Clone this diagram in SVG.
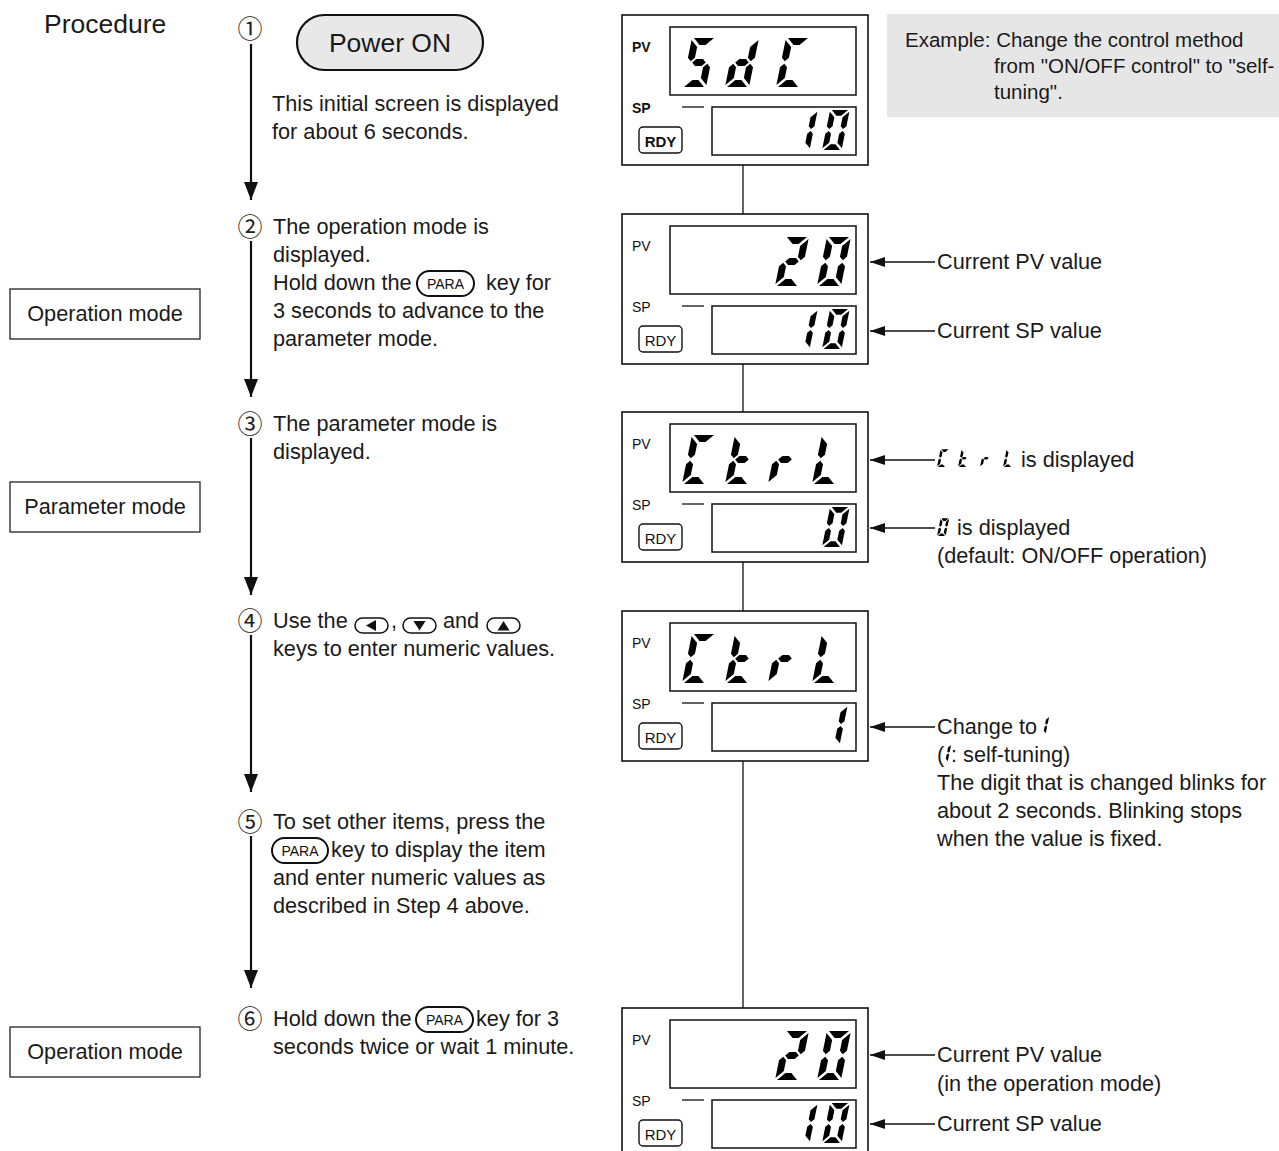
<svg xmlns="http://www.w3.org/2000/svg" xmlns:xlink="http://www.w3.org/1999/xlink" width="1279" height="1151" viewBox="0 0 1279 1151">
<style>
.t{font-family:"Liberation Sans",Arial,sans-serif;font-size:21.7px;fill:#1a1a1a}
.big{font-size:26.5px}
.ex{font-size:20.5px}
.lab{font-family:"Liberation Sans",Arial,sans-serif;font-size:14px;fill:#111}
.rdy{font-family:"Liberation Sans",Arial,sans-serif;font-size:15px;fill:#111;text-anchor:middle}
.b{font-weight:bold}
.num{font-family:"Noto Sans CJK JP",sans-serif;font-size:25px;fill:#222;text-anchor:middle}
.panel{fill:#fff;stroke:#111;stroke-width:1.6}
.win{fill:#fff;stroke:#111;stroke-width:1.5}
.rdybox{fill:#fff;stroke:#111;stroke-width:1.4}
.box{fill:#fff;stroke:#222;stroke-width:1.3}
.key{fill:#fff;stroke:#111;stroke-width:2}
.skey{fill:#fff;stroke:#111;stroke-width:1.5}
.conn{stroke:#111;stroke-width:1.3;fill:none}
.arr{stroke:#111;stroke-width:2.2;fill:none}
.larr{stroke:#111;stroke-width:1.5;fill:none}
.seg{fill:#000}
</style>
<defs>
<marker id="hd" markerUnits="userSpaceOnUse" markerWidth="18" markerHeight="14" refX="18" refY="7" orient="auto"><path d="M0,0 L18,7 L0,14 z" fill="#111"/></marker>
<marker id="hl" markerUnits="userSpaceOnUse" markerWidth="15" markerHeight="10" refX="15" refY="5" orient="auto"><path d="M0,0 L15,5 L0,10 z" fill="#111"/></marker>
<polygon id="sa" class="seg" points="2,-49 22,-49 15,-42 9,-42"/>
<polygon id="sd" class="seg" points="2,0 22,0 15,-7 9,-7"/>
<polygon id="sg" class="seg" points="5.2,-24.5 8.7,-28 15.3,-28 18.8,-24.5 15.3,-21 8.7,-21"/>
<polygon id="sf" class="seg" points="0,-47 7,-40 7,-29.2 3.5,-25.7 0,-29.2"/>
<polygon id="se" class="seg" points="3.5,-23.3 7,-19.8 7,-9 0,-2 0,-19.8"/>
<polygon id="sb" class="seg" points="24,-47 17,-40 17,-29.2 20.5,-25.7 24,-29.2"/>
<polygon id="sc" class="seg" points="20.5,-23.3 17,-19.8 17,-9 24,-2 24,-19.8"/>
<g id="g0"><use href="#sa"/><use href="#sb"/><use href="#sc"/><use href="#sd"/><use href="#se"/><use href="#sf"/></g>
<g id="g1"><use href="#sb"/><use href="#sc"/></g>
<g id="g2"><use href="#sa"/><use href="#sb"/><use href="#sg"/><use href="#se"/><use href="#sd"/></g>
<g id="gS"><use href="#sa"/><use href="#sf"/><use href="#sg"/><use href="#sc"/><use href="#sd"/></g>
<g id="gd"><use href="#sb"/><use href="#sc"/><use href="#sd"/><use href="#se"/><use href="#sg"/></g>
<g id="gC"><use href="#sa"/><use href="#sf"/><use href="#se"/><use href="#sd"/></g>
<g id="gt"><use href="#sf"/><use href="#sg"/><use href="#se"/><use href="#sd"/></g>
<g id="gr"><use href="#se"/><use href="#sg"/></g>
<g id="gL"><use href="#sf"/><use href="#se"/><use href="#sd"/></g>
<g id="ptpl">
<rect class="win" x="48" y="12" width="186" height="68"/>
<rect class="win" x="90" y="92" width="144" height="48"/>
<line x1="60" y1="92" x2="82" y2="92" stroke="#111" stroke-width="1.3"/>
<rect class="rdybox" x="17" y="112" width="43" height="26" rx="4"/>
</g>
</defs>

<text class="t big" x="44" y="33">Procedure</text>

<g id="connectors">
<line class="arr" x1="251" y1="44" x2="251" y2="200" marker-end="url(#hd)"/>
<line class="arr" x1="251" y1="241" x2="251" y2="397" marker-end="url(#hd)"/>
<line class="arr" x1="251" y1="438" x2="251" y2="595" marker-end="url(#hd)"/>
<line class="arr" x1="251" y1="635" x2="251" y2="792" marker-end="url(#hd)"/>
<line class="arr" x1="251" y1="836" x2="251" y2="988" marker-end="url(#hd)"/>
<line class="conn" x1="743" y1="165" x2="743" y2="214"/>
<line class="conn" x1="743" y1="364" x2="743" y2="412"/>
<line class="conn" x1="743" y1="562" x2="743" y2="611"/>
<line class="conn" x1="743" y1="761" x2="743" y2="1008"/>
<line class="larr" x1="935" y1="262" x2="870" y2="262" marker-end="url(#hl)"/>
<line class="larr" x1="935" y1="331" x2="870" y2="331" marker-end="url(#hl)"/>
<line class="larr" x1="935" y1="460" x2="870" y2="460" marker-end="url(#hl)"/>
<line class="larr" x1="935" y1="528" x2="870" y2="528" marker-end="url(#hl)"/>
<line class="larr" x1="935" y1="727" x2="870" y2="727" marker-end="url(#hl)"/>
<line class="larr" x1="935" y1="1055" x2="870" y2="1055" marker-end="url(#hl)"/>
<line class="larr" x1="935" y1="1124" x2="870" y2="1124" marker-end="url(#hl)"/>
</g>

<g id="step1">
<text class="num" x="250" y="38">①</text>
<rect x="297" y="15" width="186" height="55" rx="27.5" fill="#e8e8e8" stroke="#111" stroke-width="2.2"/>
<text class="t big" x="390" y="52" text-anchor="middle">Power ON</text>
<text class="t" x="272" y="111">This initial screen is displayed</text>
<text class="t" x="272" y="139">for about 6 seconds.</text>
</g>

<g id="step2">
<text class="num" x="250" y="236">②</text>
<text class="t" x="273" y="234">The operation mode is</text>
<text class="t" x="273" y="262">displayed.</text>
<text class="t" x="273" y="290">Hold down the</text>
<rect class="key" x="417" y="271" width="57" height="25" rx="12.5"/>
<text class="lab" x="445.5" y="288.5" text-anchor="middle">PARA</text>
<text class="t" x="486" y="290">key for</text>
<text class="t" x="273" y="318">3 seconds to advance to the</text>
<text class="t" x="273" y="346">parameter mode.</text>
</g>

<g id="step3">
<text class="num" x="250" y="433">③</text>
<text class="t" x="273" y="431">The parameter mode is</text>
<text class="t" x="273" y="459">displayed.</text>
</g>

<g id="step4">
<text class="num" x="250" y="630">④</text>
<text class="t" x="273" y="628">Use the</text>
<rect class="skey" x="355" y="618" width="33" height="15" rx="7.5"/>
<polygon points="366,625.5 376,620 376,631" fill="#111"/>
<text class="t" x="391" y="628">,</text>
<rect class="skey" x="403" y="618" width="33" height="15" rx="7.5"/>
<polygon points="413.5,621 425.5,621 419.5,630.5" fill="#111"/>
<text class="t" x="443" y="628">and</text>
<rect class="skey" x="487" y="618" width="33" height="15" rx="7.5"/>
<polygon points="497.5,630.5 509.5,630.5 503.5,621" fill="#111"/>
<text class="t" x="273" y="656">keys to enter numeric values.</text>
</g>

<g id="step5">
<text class="num" x="250" y="831">⑤</text>
<text class="t" x="273" y="829">To set other items, press the</text>
<rect class="key" x="272" y="838" width="56" height="25" rx="12.5"/>
<text class="lab" x="300" y="855.5" text-anchor="middle">PARA</text>
<text class="t" x="331" y="857">key to display the item</text>
<text class="t" x="273" y="885">and enter numeric values as</text>
<text class="t" x="273" y="913">described in Step 4 above.</text>
</g>

<g id="step6">
<text class="num" x="250" y="1028">⑥</text>
<text class="t" x="273" y="1026">Hold down the</text>
<rect class="key" x="416" y="1007" width="57" height="25" rx="12.5"/>
<text class="lab" x="444.5" y="1024.5" text-anchor="middle">PARA</text>
<text class="t" x="476" y="1026">key for 3</text>
<text class="t" x="273" y="1054">seconds twice or wait 1 minute.</text>
</g>

<g id="mode-operation-1">
<rect class="box" x="10" y="289" width="190" height="50"/>
<text class="t" x="105" y="321" text-anchor="middle">Operation mode</text>
</g>
<g id="mode-parameter">
<rect class="box" x="10" y="482" width="190" height="50"/>
<text class="t" x="105" y="514" text-anchor="middle">Parameter mode</text>
</g>
<g id="mode-operation-2">
<rect class="box" x="10" y="1027" width="190" height="50"/>
<text class="t" x="105" y="1059" text-anchor="middle">Operation mode</text>
</g>

<g id="example">
<rect x="887" y="14" width="392" height="103" fill="#e6e6e6"/>
<text class="t ex" x="905" y="47">Example: Change the control method</text>
<text class="t ex" x="994" y="73">from "ON/OFF control" to "self-</text>
<text class="t ex" x="994" y="99">tuning".</text>
</g>

<g id="panel1">
<rect class="panel" x="622" y="15" width="246" height="150"/>
<use href="#ptpl" transform="translate(622,15)"/>
<text class="lab b" x="632" y="52">PV</text>
<text class="lab b" x="632" y="113">SP</text>
<text class="rdy b" x="660.5" y="147">RDY</text>
<use href="#gS" transform="translate(682,87) skewX(-11.5)"/>
<use href="#gd" transform="translate(725,87) skewX(-11.5)"/>
<use href="#gC" transform="translate(776,87) skewX(-11.5)"/>
<use href="#g1" transform="translate(790,150) skewX(-11.5) scale(0.816)"/>
<use href="#g0" transform="translate(822,150) skewX(-11.5) scale(0.816)"/>
</g>

<g id="panel2">
<rect class="panel" x="622" y="214" width="246" height="150"/>
<use href="#ptpl" transform="translate(622,214)"/>
<text class="lab" x="632" y="251">PV</text>
<text class="lab" x="632" y="312">SP</text>
<text class="rdy" x="660.5" y="346">RDY</text>
<use href="#g2" transform="translate(775,286) skewX(-11.5)"/>
<use href="#g0" transform="translate(817,286) skewX(-11.5)"/>
<use href="#g1" transform="translate(790,349) skewX(-11.5) scale(0.816)"/>
<use href="#g0" transform="translate(822,349) skewX(-11.5) scale(0.816)"/>
</g>

<g id="panel3">
<rect class="panel" x="622" y="412" width="246" height="150"/>
<use href="#ptpl" transform="translate(622,412)"/>
<text class="lab" x="632" y="449">PV</text>
<text class="lab" x="632" y="510">SP</text>
<text class="rdy" x="660.5" y="544">RDY</text>
<use href="#gC" transform="translate(682,484) skewX(-11.5)"/>
<use href="#gt" transform="translate(725,484) skewX(-11.5)"/>
<use href="#gr" transform="translate(768,484) skewX(-11.5)"/>
<use href="#gL" transform="translate(812,484) skewX(-11.5)"/>
<use href="#g0" transform="translate(822,547) skewX(-11.5) scale(0.816)"/>
</g>

<g id="panel4">
<rect class="panel" x="622" y="611" width="246" height="150"/>
<use href="#ptpl" transform="translate(622,611)"/>
<text class="lab" x="632" y="648">PV</text>
<text class="lab" x="632" y="709">SP</text>
<text class="rdy" x="660.5" y="743">RDY</text>
<use href="#gC" transform="translate(682,683) skewX(-11.5)"/>
<use href="#gt" transform="translate(725,683) skewX(-11.5)"/>
<use href="#gr" transform="translate(768,683) skewX(-11.5)"/>
<use href="#gL" transform="translate(812,683) skewX(-11.5)"/>
<use href="#g1" transform="translate(820,745) skewX(-11.5) scale(0.816)"/>
</g>

<g id="panel5">
<rect class="panel" x="622" y="1008" width="246" height="150"/>
<use href="#ptpl" transform="translate(622,1008)"/>
<text class="lab" x="632" y="1045">PV</text>
<text class="lab" x="632" y="1106">SP</text>
<text class="rdy" x="660.5" y="1140">RDY</text>
<use href="#g2" transform="translate(775,1080) skewX(-11.5)"/>
<use href="#g0" transform="translate(817,1080) skewX(-11.5)"/>
<use href="#g1" transform="translate(790,1143) skewX(-11.5) scale(0.816)"/>
<use href="#g0" transform="translate(822,1143) skewX(-11.5) scale(0.816)"/>
</g>

<g id="notes">
<text class="t" x="937" y="269">Current PV value</text>
<text class="t" x="937" y="338">Current SP value</text>
<use href="#gC" transform="translate(937,467) skewX(-11.5) scale(0.36)"/>
<use href="#gt" transform="translate(958,467) skewX(-11.5) scale(0.36)"/>
<use href="#gr" transform="translate(980,467) skewX(-11.5) scale(0.36)"/>
<use href="#gL" transform="translate(1003,467) skewX(-11.5) scale(0.36)"/>
<text class="t" x="1021" y="467">is displayed</text>
<use href="#g0" transform="translate(937,536) skewX(-11.5) scale(0.36)"/>
<text class="t" x="957" y="535">is displayed</text>
<text class="t" x="937" y="563">(default: ON/OFF operation)</text>
<text class="t" x="937" y="734">Change to</text>
<use href="#g1" transform="translate(1037,734) skewX(-11.5) scale(0.36)"/>
<text class="t" x="937" y="762">(</text>
<use href="#g1" transform="translate(939,762) skewX(-11.5) scale(0.36)"/>
<text class="t" x="951" y="762">: self-tuning)</text>
<text class="t" x="937" y="790">The digit that is changed blinks for</text>
<text class="t" x="937" y="818">about 2 seconds. Blinking stops</text>
<text class="t" x="937" y="846">when the value is fixed.</text>
<text class="t" x="937" y="1062">Current PV value</text>
<text class="t" x="937" y="1091">(in the operation mode)</text>
<text class="t" x="937" y="1131">Current SP value</text>
</g>
</svg>
